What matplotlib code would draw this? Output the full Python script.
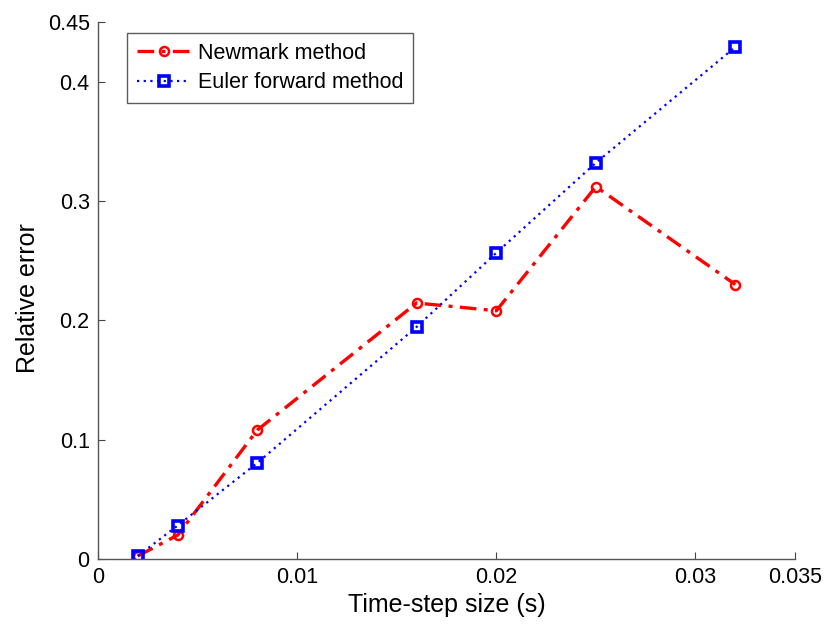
import matplotlib
matplotlib.use("Agg")
import matplotlib.pyplot as plt

plt.rcParams["font.family"] = ["Liberation Sans", "DejaVu Sans"]

# time-step sizes (s)
dt = [0.002, 0.004, 0.008, 0.016, 0.020, 0.025, 0.032]
newmark_err = [0.0025, 0.020, 0.108, 0.2145, 0.208, 0.312, 0.230]
euler_err = [0.0025, 0.028, 0.0805, 0.1945, 0.2565, 0.332, 0.429]

x_ticks = [0, 0.01, 0.02, 0.03, 0.035]
x_tick_labels = ["0", "0.01", "0.02", "0.03", "0.035"]
y_ticks = [0, 0.1, 0.2, 0.3, 0.4, 0.45]
y_tick_labels = ["0", "0.1", "0.2", "0.3", "0.4", "0.45"]

fig = plt.figure(figsize=(8.26, 6.24), dpi=100, facecolor="white")
ax = fig.add_axes([0.1186, 0.1042, 0.8439, 0.8606])

ax.plot(dt, newmark_err, color="red", linestyle=(0, (5, 2.2, 1.2, 2.2)),
        lw=2.4, marker="o", markersize=6.5, markerfacecolor="none",
        markeredgewidth=1.8, label="Newmark method")
ax.plot(dt, euler_err, color="blue", linestyle=(0, (1, 2)),
        lw=1.6, marker="s", markersize=7, markerfacecolor="none",
        markeredgewidth=2.6, label="Euler forward method")

ax.set_xlim(0, 0.035)
ax.set_ylim(0, 0.45)
ax.set_xticks(x_ticks)
ax.set_xticklabels(x_tick_labels)
ax.set_yticks(y_ticks)
ax.set_yticklabels(y_tick_labels)
ax.tick_params(direction="in", length=5, labelsize=15.5, colors="#444444",
               labelcolor="black")
ax.tick_params(axis="x", pad=6)
ax.tick_params(axis="y", pad=6)
for side in ("top", "right"):
    ax.spines[side].set_visible(False)
for side in ("left", "bottom"):
    ax.spines[side].set_color("#555555")
    ax.spines[side].set_linewidth(1.0)

ax.set_xlabel("Time-step size (s)", fontsize=18, va="center")
ax.set_ylabel("Relative error", fontsize=18, va="center")
ax.xaxis.set_label_coords(0.5, -0.0857)
ax.yaxis.set_label_coords(-0.1004, 0.486)

leg = ax.legend(loc="upper left", bbox_to_anchor=(0.0416, 0.9795), fontsize=15.5,
                frameon=True, fancybox=False, handlelength=2.5,
                borderpad=0.45, labelspacing=0.4, handletextpad=0.35,
                borderaxespad=0)
leg.get_frame().set_edgecolor("#333333")
leg.get_frame().set_linewidth(1.0)

fig.savefig("out.png", dpi=100)
